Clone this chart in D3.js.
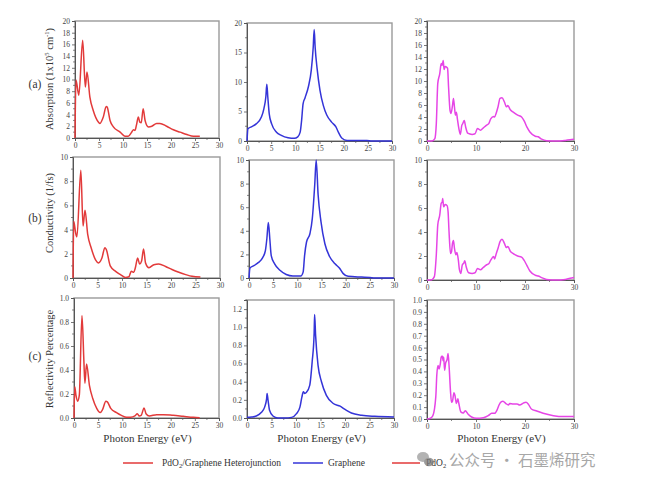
<!DOCTYPE html>
<html><head><meta charset="utf-8">
<script src="https://cdn.jsdelivr.net/npm/d3@7"></script>
<style>body{margin:0;background:#fff}svg{display:block}
svg text{font-family:"Liberation Serif","Times New Roman","DejaVu Serif",serif}
svg text.cjk{font-family:"Noto Sans CJK SC",sans-serif}</style>
</head><body>
<svg id="c" width="645" height="485"></svg>
<script>
// ---------- DATA ----------
const seriesNames = ["PdO2/Graphene Heterojunction", "Graphene", "PdO2"];
const rowTitles = ["Absorption", "Conductivity", "Reflectivity Percentage"];
const rowLetters = ["(a)", "(b)", "(c)"];

// Heterojunction – absorption
const hetAbsE = [0,0.2,0.8,1.6,2.15,2.5,3.1,3.8,4.9,5.2,5.9,6.5,6.7,7.3,8,9.4,10.4,11.1,11.8,12.2,12.5,12.8,13.2,13.5,13.8,14.2,14.6,15.3,16,17,17.7,19.1,20.5,21.9,23.3,24.7,26];
const hetAbsV = [0,9.9,7.3,16.7,8.7,11.3,7,4.7,2.7,2.5,3.6,5.4,5.3,3,1.9,1,0.3,0.3,1,1.4,1.3,2.2,3.6,2.7,2.6,5.0,3,1.9,2,2.5,2.5,2,1.4,1,0.6,0.3,0.3];
// Heterojunction – conductivity
const hetConE = [0,0.15,0.55,0.8,1.6,2.05,2.45,3,3.7,4.6,5.2,5.9,6.5,6.8,7.6,8.7,9.7,10.7,11.4,11.9,12.4,12.7,13.2,13.6,14,14.4,14.8,15.5,16.5,17.5,18.9,20.2,21.6,23,24.3,26];
const hetConV = [0,4.7,3.7,3.4,8.9,4.3,5.6,3.6,2.5,1.5,1.25,1.65,2.5,2.35,1,0.55,0.28,0.05,0.1,0.55,0.47,0.8,1.65,1.15,1.4,2.4,1.25,0.85,1.1,1.15,0.95,0.7,0.47,0.28,0.14,0.08];
// Heterojunction – reflectivity
const hetRefE = [0,0.15,0.4,0.75,1.1,1.65,2.05,2.25,2.6,3.2,3.9,4.7,5.4,5.9,6.6,6.9,7.6,8.8,9.8,10.9,11.7,12.6,13.1,13.5,13.9,14.5,14.9,15.6,17.1,18.5,20.5,22.6,24.7,26];
const hetRefV = [0,0.26,0.19,0.14,0.19,0.855,0.47,0.29,0.45,0.27,0.16,0.08,0.045,0.07,0.14,0.135,0.08,0.045,0.022,0.006,0.006,0.017,0.036,0.017,0.022,0.084,0.036,0.017,0.028,0.028,0.022,0.014,0.006,0.003];

// Graphene – absorption
const graAbsE = [0,0.2,0.9,1.9,3,3.5,3.9,4.1,4.3,4.6,5.1,6.1,7.1,8.5,9.8,10.5,11,11.3,11.6,12,12.7,13.3,13.7,13.9,14.1,14.5,15.1,15.8,16.5,17.5,18.4,18.9,19.6,20.7,22.4,24.8,25.8,30];
const graAbsV = [0,2.1,2.4,2.9,4.1,5.5,7.5,9.6,7.5,4.6,2.9,1.5,0.95,0.55,0.45,0.7,1.5,3.5,6.3,7.3,9.2,12,15.9,18.9,15.9,12.3,8.6,6,4.4,3.2,2.4,1.5,0.5,0.1,0.1,0.1,0,0];
// Graphene – conductivity
const graConE = [0,0.2,0.8,1.9,2.8,3.4,3.7,4.0,4.3,4.6,5.3,6.4,7.7,9.1,10.7,11.2,11.5,11.9,12.6,13.1,13.6,13.9,14.3,14.9,15.7,16.7,17.8,18.7,19.5,20.5,23.3,25,26,30];
const graConV = [0,0.85,1.0,1.3,1.7,2.35,3.35,4.7,3.35,1.9,1.2,0.65,0.3,0.17,0.17,0.5,1.9,3.05,3.75,5.05,7.9,10,7.05,4.75,2.9,1.8,1.2,0.85,0.37,0.14,0.08,0.05,0,0];
// Graphene – reflectivity
const graRefE = [0,0.9,1.9,2.9,3.6,4.0,4.1,4.3,4.6,5.3,6.3,7.7,9.1,10.1,10.8,11.2,11.5,11.8,12.1,12.8,13.3,13.7,13.8,14.0,14.5,15.2,16.2,17.6,19,20,21.3,23.4,26.1,30];
const graRefV = [0.007,0.011,0.022,0.06,0.12,0.21,0.27,0.195,0.085,0.022,0,0,0.007,0.048,0.12,0.23,0.29,0.27,0.28,0.36,0.62,0.93,1.14,0.91,0.58,0.4,0.25,0.16,0.13,0.095,0.055,0.03,0.018,0.011];

// PdO2 – absorption
const pdoAbsE = [0,1,1.6,1.9,2.2,2.6,2.9,3.1,3.3,3.5,3.7,4.0,4.2,4.4,4.7,4.9,5.2,5.4,5.6,5.8,6.0,6.2,6.5,6.8,7.1,7.3,7.6,7.9,8.3,9.2,9.8,10.3,10.9,11.5,12.1,12.6,13,13.6,13.8,14.1,14.5,14.9,15.3,15.8,16.2,16.5,17,17.6,18.5,19.3,19.8,20.4,21,22.1,22.7,23.4,24.4,26.5,28.2,29.2,30];
const pdoAbsV = [0,0,0.4,2.9,9.6,11.2,12.9,12.6,13.4,11.9,12.4,12.3,12.1,9,5.1,4.6,5.9,7.1,5.7,4.3,4.8,3.7,2.1,1.1,2.6,2.9,3.4,2.3,1.3,1.1,1.2,2.1,1.8,2.2,2.6,2.9,3.7,4.1,4,4.6,5.7,7.1,7.2,6.5,5.7,5.9,5.2,4.8,4.3,4,3.4,2.3,1.5,0.8,0.7,0.3,0.05,0,0.1,0.2,0.3];
// PdO2 – conductivity
const pdoConE = [0,1,1.5,1.9,2.2,2.6,2.9,3.1,3.2,3.4,3.7,4.1,4.3,4.5,4.8,5,5.2,5.4,5.6,5.9,6.1,6.4,6.6,6.9,7.2,7.5,7.7,8,8.5,9.2,9.8,10.3,10.9,11.5,12.1,12.6,13,13.6,13.8,14.1,14.5,14.9,15.3,15.8,16.2,16.5,17,17.6,18.5,19.3,19.8,20.4,21,22.1,22.7,23.4,24.4,26.5,28.2,29.2,30];
const pdoConV = [0,0.03,0.28,2.1,4.6,5.4,6.4,6.5,6.8,6.1,6.3,6.2,5.7,4,2.2,2.35,3.05,3.3,2.65,2.1,2.3,1.65,0.9,0.55,1.25,1.4,1.6,1.1,0.6,0.55,0.6,0.95,0.85,1.05,1.25,1.35,1.65,1.95,1.75,2.15,2.65,3.2,3.4,3.05,2.7,2.8,2.4,2.2,2,1.9,1.65,1.2,0.75,0.4,0.33,0.2,0.05,0,0.05,0.14,0.2];
// PdO2 – reflectivity
const pdoRefE = [0,0.7,1.2,1.8,2.0,2.25,2.45,2.7,2.9,3.1,3.3,3.4,3.6,3.8,4.1,4.3,4.5,4.8,5,5.2,5.5,5.7,6,6.3,6.5,6.9,7.4,7.8,8.4,9.1,10.1,11.5,12.5,13.2,13.8,14.3,14.7,15.2,15.5,16.1,16.6,16.9,17.6,18.4,18.9,19.8,20.2,20.7,21.3,22.4,23.7,25.8,27.8,30];
const pdoRefV = [0,0.006,0.028,0.19,0.37,0.45,0.42,0.46,0.52,0.53,0.49,0.52,0.41,0.47,0.5,0.55,0.45,0.23,0.14,0.15,0.22,0.2,0.13,0.17,0.13,0.06,0.05,0.07,0.04,0.017,0.006,0.011,0.028,0.048,0.048,0.076,0.118,0.146,0.15,0.13,0.118,0.13,0.126,0.126,0.118,0.137,0.14,0.123,0.084,0.067,0.048,0.028,0.02,0.02];

// Tick labels
const xTicksFine = [0,5,10,15,20,25,30];
const xTicksCoarse = [0,10,20,30];
const yTicksAbs2 = [0,2,4,6,8,10,12,14,16,18,20];
const yTicksAbs5 = [0,5,10,15,20];
const yTicksCon = [0,2,4,6,8,10];
const yTicksRef02 = [0,0.2,0.4,0.6,0.8,1.0];
const yTicksRefGra = [0,0.2,0.4,0.6,0.8,1.0,1.2];
const yTicksRef01 = [0,0.1,0.2,0.3,0.4,0.5,0.6,0.7,0.8,0.9,1.0];

// ---------- DRAW ----------
const svg = d3.select("#c");
const colors = ["#e23a3a", "#3434d8", "#e645e6"];

const panels = [
  {E: hetAbsE, V: hetAbsV, s:0, yMax:20, yT:yTicksAbs2, xT:xTicksFine, b:[75,21,219,138], fmt:d3.format("d")},
  {E: graAbsE, V: graAbsV, s:1, yMax:20, yT:yTicksAbs5, xT:xTicksFine, b:[247,23,392,141], fmt:d3.format("d")},
  {E: pdoAbsE, V: pdoAbsV, s:2, yMax:20, yT:yTicksAbs2, xT:xTicksCoarse, b:[427,21,574,141], fmt:d3.format("d")},
  {E: hetConE, V: hetConV, s:0, yMax:10, yT:yTicksCon, xT:xTicksFine, b:[73,157,220,278], fmt:d3.format("d")},
  {E: graConE, V: graConV, s:1, yMax:10, yT:yTicksCon, xT:xTicksFine, b:[249,160,394,278], fmt:d3.format("d")},
  {E: pdoConE, V: pdoConV, s:2, yMax:10, yT:yTicksCon, xT:xTicksCoarse, b:[427,160,574,280], fmt:d3.format("d")},
  {E: hetRefE, V: hetRefV, s:0, yMax:1.0, yT:yTicksRef02, xT:xTicksFine, b:[74,298,219,418], fmt:d3.format(".1f")},
  {E: graRefE, V: graRefV, s:1, yMax:1.3, yT:yTicksRefGra, xT:xTicksFine, b:[247,300,394,418], fmt:d3.format(".1f")},
  {E: pdoRefE, V: pdoRefV, s:2, yMax:1.0, yT:yTicksRef01, xT:xTicksCoarse, b:[427,300,574,419], fmt:d3.format(".1f")}
];

panels.forEach((p, i) => {
  const [l, t, r, bt] = p.b;
  const x = d3.scaleLinear().domain([0, 30]).range([l, r]);
  const y = d3.scaleLinear().domain([0, p.yMax]).range([bt, t]);
  const g = svg.append("g");
  g.append("rect").attr("x", l).attr("y", t).attr("width", r - l).attr("height", bt - t)
    .attr("fill", "none").attr("stroke", "#9a9a9a").attr("stroke-width", 1.4);
  const ystep = p.yT[1] - p.yT[0];
  const yMinor = d3.range(0, p.yMax + 1e-9, ystep / 2).filter(v => !p.yT.some(m => Math.abs(m - v) < 1e-9));
  g.selectAll(".ym").data(yMinor).join("line")
    .attr("x1", l - 2).attr("x2", l).attr("y1", d => y(d)).attr("y2", d => y(d))
    .attr("stroke", "#555").attr("stroke-width", 0.7);
  const xstep = p.xT[1] - p.xT[0];
  const xMinor = d3.range(xstep / 2, 30, xstep);
  g.selectAll(".xm").data(xMinor).join("line")
    .attr("y1", bt).attr("y2", bt + 2).attr("x1", d => x(d)).attr("x2", d => x(d))
    .attr("stroke", "#555").attr("stroke-width", 0.7);
  const ya = d3.axisLeft(y).tickValues(p.yT).tickSize(3).tickPadding(2).tickFormat(p.fmt);
  const xa = d3.axisBottom(x).tickValues(p.xT).tickSize(3).tickPadding(2).tickFormat(d3.format("d"));
  [g.append("g").attr("transform", `translate(${l},0)`).call(ya),
   g.append("g").attr("transform", `translate(0,${bt})`).call(xa)].forEach(a => {
    a.attr("font-family", null).attr("font-size", null);
    a.select(".domain").attr("stroke", "#555").attr("stroke-width", 1);
    a.selectAll(".tick line").attr("stroke", "#555").attr("stroke-width", 0.8);
    a.selectAll(".tick text").style("font-size", "7.5px").attr("fill", "#444");
  });
  const pts = p.E.map((e, k) => [e, p.V[k]]);
  g.append("path").datum(pts)
    .attr("d", d3.line().x(d => x(d[0])).y(d => y(d[1])).curve(d3.curveMonotoneX))
    .attr("fill", "none").attr("stroke", colors[p.s]).attr("stroke-width", 1.5)
    .attr("stroke-linejoin", "round");
  if (i >= 6) {
    svg.append("text").attr("x", (l + r) / 2 + 1).attr("y", 442).attr("text-anchor", "middle")
      .style("font-size", "11px").attr("fill", "#333").text("Photon Energy (eV)");
  }
});

function yTitle(cx, cy, build) {
  const t = svg.append("text").attr("transform", `translate(${cx},${cy}) rotate(-90)`)
    .attr("text-anchor", "middle").style("font-size", "10.5px").attr("fill", "#333");
  build(t);
}
yTitle(53, 79, t => {
  t.append("tspan").text("Absorption (1x10");
  t.append("tspan").style("font-size", "6.5px").attr("dy", -4).text("5");
  t.append("tspan").attr("dy", 4).text(" cm");
  t.append("tspan").style("font-size", "6.5px").attr("dy", -4).text("-1");
  t.append("tspan").attr("dy", 4).text(")");
});
yTitle(53, 213, t => t.text("Conductivity (1/fs)"));
yTitle(53, 359, t => t.text("Reflectivity Percentage"));
const letterY = [88, 222, 360];
rowLetters.forEach((s, i) => svg.append("text").attr("x", 35).attr("y", letterY[i]).attr("text-anchor", "middle")
  .style("font-size", "11.5px").attr("fill", "#333").text(s));

// Legend
const legY = 463;
const leg = [
  {x1: 123, x2: 153, tx: 162, c: colors[0], name: seriesNames[0]},
  {x1: 293, x2: 323, tx: 328, c: colors[1], name: seriesNames[1]},
  {x1: 392, x2: 420, tx: 426, c: colors[0], name: seriesNames[2]}
];
leg.forEach(d => {
  svg.append("line").attr("x1", d.x1).attr("x2", d.x2).attr("y1", legY).attr("y2", legY)
    .attr("stroke", d.c).attr("stroke-width", 1.5);
  const t = svg.append("text").attr("x", d.tx).attr("y", legY + 3)
    .style("font-size", "9.5px").attr("fill", "#333");
  const parts = d.name.split("O2");
  if (parts.length > 1) {
    t.append("tspan").text(parts[0] + "O");
    t.append("tspan").style("font-size", "6.5px").attr("dy", 2).text("2");
    t.append("tspan").attr("dy", -2).text(parts[1]);
  } else {
    t.text(d.name);
  }
});

// Watermark
const wm = svg.append("g").attr("opacity", 0.75);
wm.append("ellipse").attr("cx", 423).attr("cy", 457).attr("rx", 6).attr("ry", 5).attr("fill", "#9a9a9a");
wm.append("ellipse").attr("cx", 429).attr("cy", 462).attr("rx", 5).attr("ry", 4.2).attr("fill", "#7a7a7a");
wm.append("text").attr("class", "cjk").attr("x", 449).attr("y", 466)
  .style("font-size", "15.5px").attr("fill", "#8a8a8a").text("公众号 · 石墨烯研究");
</script>
</body></html>
